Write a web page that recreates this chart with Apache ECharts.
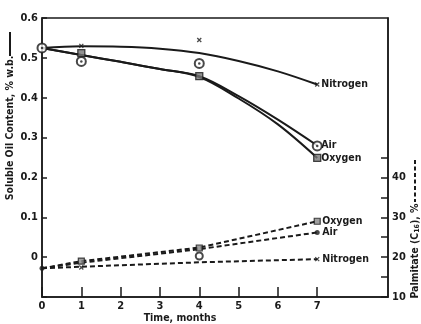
<!DOCTYPE html>
<html><head><meta charset="utf-8">
<script src="https://cdn.jsdelivr.net/npm/echarts@6/dist/echarts.min.js"></script>
<style>html,body{margin:0;padding:0;background:#fff}#c{width:421px;height:324px}</style>
</head><body><div id="c"></div>
<script>
// ---- data ----
var curveMonths = [0, 1, 2, 3, 4, 5, 6, 7];
var oilNitrogenCurve = [0.525, 0.529, 0.528, 0.523, 0.512, 0.492, 0.466, 0.433];
var oilAirCurve      = [0.525, 0.507, 0.490, 0.472, 0.454, 0.404, 0.345, 0.280];
var oilOxygenCurve   = [0.525, 0.507, 0.490, 0.472, 0.452, 0.398, 0.333, 0.249];

var oilNitrogenPts = [[1, 0.530], [4, 0.545], [7, 0.433]];
var oilAirPts      = [[0, 0.525], [1, 0.491], [4, 0.486], [7, 0.279]];
var oilOxygenPts   = [[1, 0.512], [4, 0.454], [7, 0.249]];

var palMonths   = [0, 1, 4, 7];
var palOxygen   = [17.2, 19.0, 22.4, 29.0];
var palAir      = [17.2, 18.6, 22.0, 26.2];
var palNitrogen = [17.2, 17.6, 18.7, 19.5];
var palOxygenPts = [[1, 19.0], [4, 22.3], [7, 29.0]];
var palAirPts    = [[4, 20.3]];
var palAirDots   = [[0, 17.2], [7, 26.2]];
var palNitrogenPts = [[1, 17.4], [7, 19.5]];

var xTickLabels = [0, 1, 2, 3, 4, 5, 6, 7];
var leftTicks = [-0.1, 0, 0.1, 0.2, 0.3, 0.4, 0.5, 0.6];
var rightLabels = [10, 20, 30, 40];
var rightTicks = [10, 15, 20, 25, 30, 35, 40, 45];

// ---- chart ----
var FONT = '"Liberation Sans Narrow","DejaVu Sans Condensed","Roboto Condensed",sans-serif';
var INK = '#1a1a1a';
function pairs(xs, ys) { return xs.map(function (x, i) { return [x, ys[i]]; }); }
var lblStyle = { color: INK, fontFamily: FONT, fontWeight: 'bold', fontSize: 11 };

function curve(name, ys) {
  return { type: 'line', name: name, yAxisIndex: 0, data: pairs(curveMonths, ys), smooth: 0.35,
    showSymbol: false, symbol: 'none', lineStyle: { color: INK, width: 2 }, z: 3,
    endLabel: { show: true, formatter: name, distance: 4, color: INK, fontFamily: FONT, fontWeight: 'bold', fontSize: 10.5 } };
}
function dashed(name, ys) {
  return { type: 'line', name: name, yAxisIndex: 1, data: pairs(palMonths, ys),
    showSymbol: false, symbol: 'none', lineStyle: { color: INK, width: 2, type: [5, 3] }, z: 3,
    endLabel: { show: true, formatter: name, distance: 5, color: INK, fontFamily: FONT, fontWeight: 'bold', fontSize: 10.5 } };
}
function pts(data, axis, symbol, size, fill, bw) {
  return { type: 'scatter', yAxisIndex: axis, data: data, symbol: symbol, symbolSize: size, z: 5,
    itemStyle: { color: fill, borderColor: INK, borderWidth: bw }, silent: true };
}
var xMark = 'path://M0,0L10,10M10,0L0,10';

var chart = echarts.init(document.getElementById('c'), null, { renderer: 'canvas' });
chart.setOption({
  animation: false,
  backgroundColor: '#fff',
  grid: { left: 42, right: 33, top: 18, bottom: 27, show: true, borderColor: INK, borderWidth: 1.5, backgroundColor: 'transparent' },
  xAxis: {
    type: 'value', min: 0, max: 8.8,
    axisLine: { show: true, onZero: false, lineStyle: { color: INK, width: 1.5 } },
    axisTick: { show: true, inside: true, length: 10, customValues: xTickLabels, lineStyle: { color: INK, width: 1.5 } },
    axisLabel: Object.assign({ customValues: xTickLabels, margin: 4 }, lblStyle),
    splitLine: { show: false }
  },
  yAxis: [{
    type: 'value', min: -0.1, max: 0.6, interval: 0.1, position: 'left',
    axisLine: { show: true, onZero: false, lineStyle: { color: INK, width: 1.5 } },
    axisTick: { show: true, inside: true, length: 5, customValues: leftTicks, lineStyle: { color: INK, width: 1.5 } },
    axisLabel: Object.assign({ customValues: leftTicks.slice(1), margin: 4,
      formatter: function (v) { return Math.abs(v) < 1e-9 ? '0' : v.toFixed(1); } }, lblStyle),
    splitLine: { show: false }
  }, {
    type: 'value', min: 10, max: 80, position: 'right', alignTicks: false,
    axisLine: { show: true, onZero: false, lineStyle: { color: INK, width: 1.5 } },
    axisTick: { show: true, inside: true, length: 7, customValues: rightTicks, lineStyle: { color: INK, width: 1.5 } },
    axisLabel: Object.assign({ customValues: rightLabels, margin: 4 }, lblStyle),
    splitLine: { show: false }
  }],
  series: [
    curve('Nitrogen', oilNitrogenCurve),
    curve('Air', oilAirCurve),
    curve('Oxygen', oilOxygenCurve),
    dashed('Oxygen', palOxygen),
    dashed('Air', palAir),
    dashed('Nitrogen', palNitrogen),
    pts(oilNitrogenPts, 0, xMark, 4, 'transparent', 1.3),
    pts(oilAirPts, 0, 'emptyCircle', 9, INK, 1.3),
    pts(oilAirPts, 0, 'circle', 2.5, INK, 0),
    pts(oilOxygenPts, 0, 'rect', 7, '#777', 1.3),
    pts(palOxygenPts, 1, 'rect', 6, '#888', 1.2),
    pts(palAirPts, 1, 'emptyCircle', 7, INK, 1.2),
    pts(palAirDots, 1, 'circle', 5, INK, 0),
    pts(palNitrogenPts, 1, xMark, 4, 'transparent', 1.2)
  ],
  graphic: [
    { type: 'text', x: 10, y: 128, rotation: Math.PI / 2,
      style: { text: 'Soluble Oil Content, % w.b.', fill: INK, font: 'bold 10.5px ' + FONT, align: 'center', verticalAlign: 'middle' } },
    { type: 'line', shape: { x1: 10, y1: 32, x2: 10, y2: 56 }, style: { stroke: INK, lineWidth: 2 } },
    { type: 'text', x: 415, y: 251, rotation: Math.PI / 2,
      style: { rich: { n: { fill: INK, font: 'bold 10.5px ' + FONT }, s: { fill: INK, font: 'bold 7px ' + FONT, verticalAlign: 'bottom', padding: [4, 0, 0, 0] } },
        text: '{n|Palmitate (C}{s|16}{n|), %}', align: 'center', verticalAlign: 'middle' } },
    { type: 'line', shape: { x1: 415, y1: 160, x2: 415, y2: 202 }, style: { stroke: INK, lineWidth: 2, lineDash: [4, 2.5] } },
    { type: 'text', x: 180, y: 313,
      style: { text: 'Time, months', fill: INK, font: 'bold 10.5px ' + FONT, align: 'center', verticalAlign: 'top' } }
  ]
});
</script></body></html>
